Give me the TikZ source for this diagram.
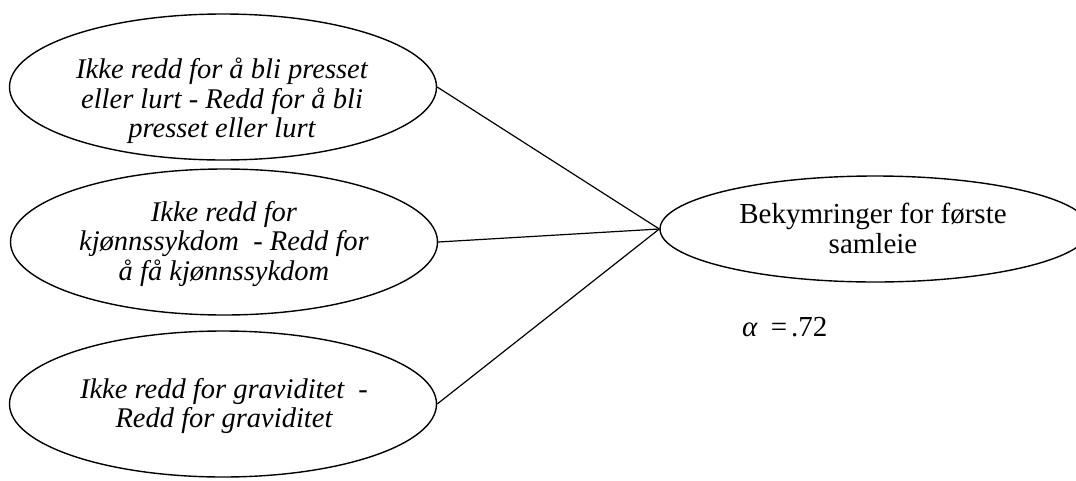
\documentclass[tikz,border=0pt]{standalone}
\usepackage{fontspec}
\setmainfont{Liberation Serif}
\usetikzlibrary{shapes.geometric}
\begin{document}
\begin{tikzpicture}[x=1pt,y=-1pt,
  ell/.style={draw,ellipse,line width=1.4pt,inner sep=0pt,minimum width=427pt,minimum height=146pt},
  txt/.style={align=center,font=\fontsize{28.5}{29.5}\selectfont\itshape,inner sep=0pt},
  conn/.style={line width=1.2pt}]
\useasboundingbox (0,0) rectangle (1076,480);
\node[ell] (e1) at (223,87) {};
\node[ell] (e2) at (224,242) {};
\node[ell] (e3) at (223,404) {};
\node[ell,minimum width=430pt,minimum height=106pt] (r) at (875,229) {};
\node[txt] (t1) at (222,101) {Ikke redd for å bli presset\\eller lurt - Redd for å bli\\presset eller lurt};
\node[txt] (t2) at (224,244) {Ikke redd for\\kjønnssykdom\ \ - Redd for\\å få kjønnssykdom};
\node[txt] (t3) at (224,406) {Ikke redd for graviditet\ \ -\\Redd for graviditet};
\node[txt,font=\fontsize{29}{30}\selectfont] (tr) at (873,228) {Bekymringer for første\\samleie};
\node[inner sep=0pt,font=\fontsize{29}{30}\selectfont,anchor=west] (alpha) at (742,327) {\textit{α}\hspace{13pt}=\hspace{4pt}.72};
\draw[conn] (e1.east) -- (r.west);
\draw[conn] (e2.east) -- (r.west);
\draw[conn] (e3.east) -- (r.west);
\end{tikzpicture}
\end{document}
